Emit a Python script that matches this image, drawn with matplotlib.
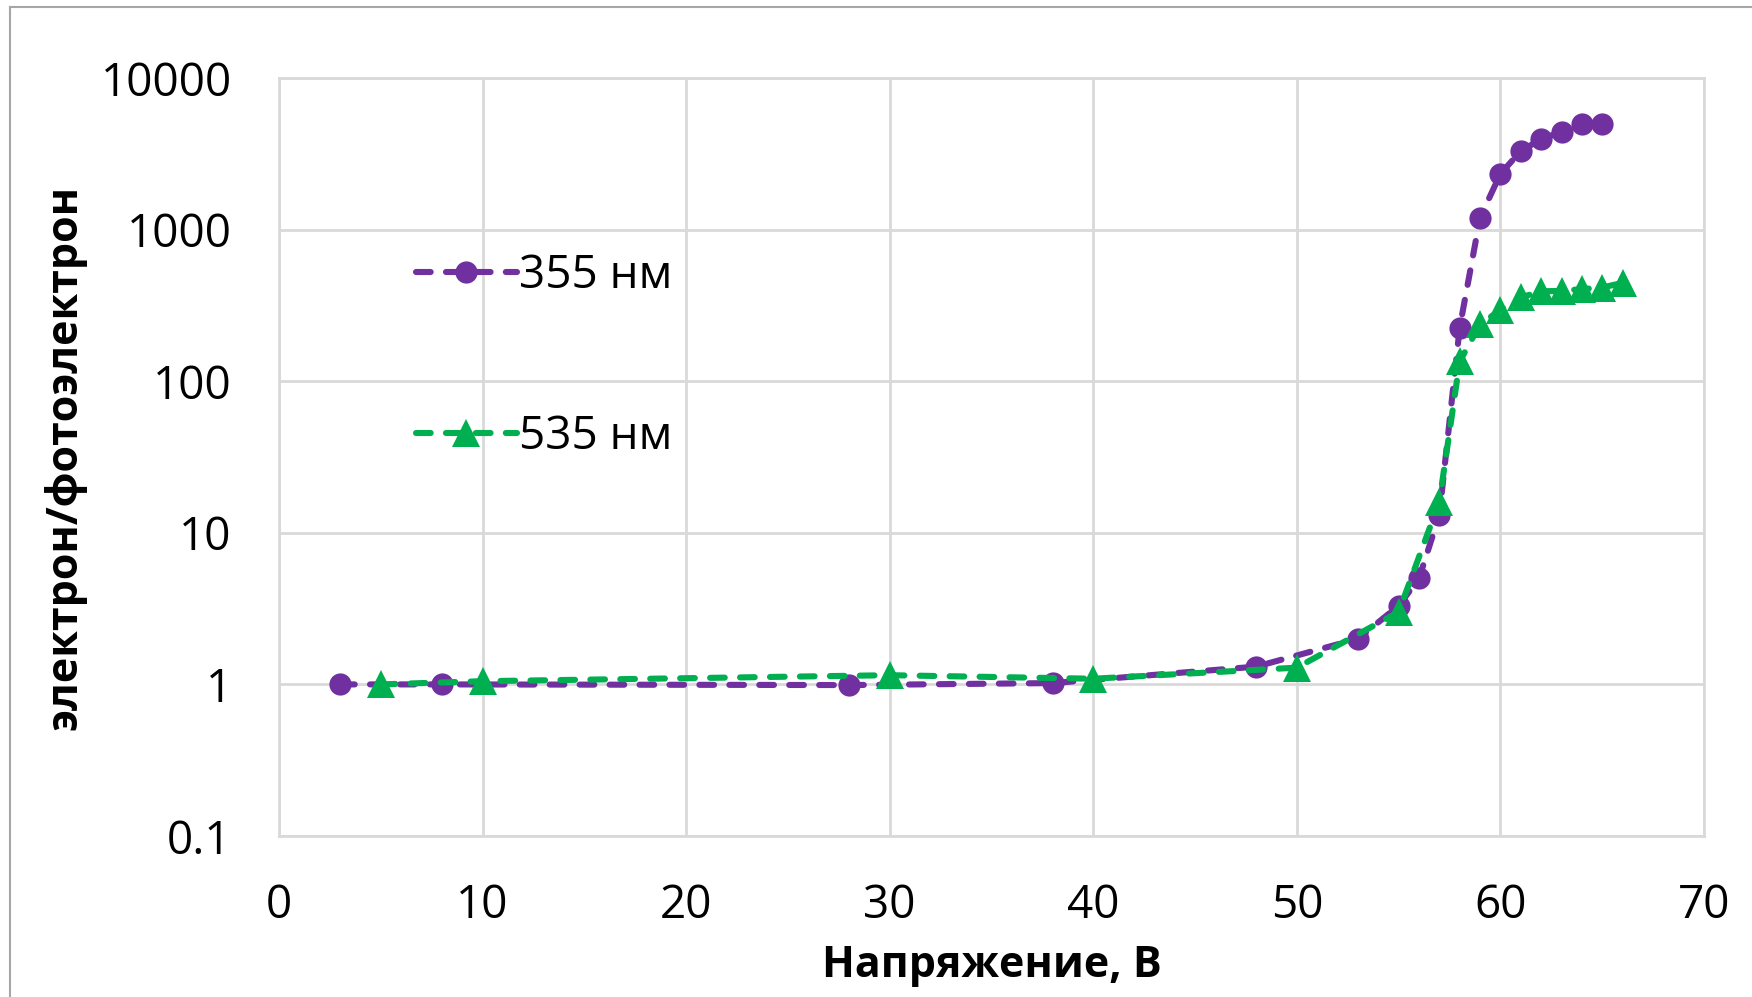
import numpy as np
import matplotlib.pyplot as plt
from matplotlib.lines import Line2D

# voltage (V) and gain readings for the two wavelengths
volts_355 = [3, 8, 28, 38, 48, 53, 55, 56, 57, 58, 59, 60, 61, 62, 63, 64, 65]
gain_355 = [1.0, 1.0, 0.99, 1.02, 1.31, 2.0, 3.3, 5.0, 13.1, 226, 1200, 2330,
            3300, 3950, 4420, 4950, 4950]

volts_535 = [5, 10, 30, 40, 50, 55, 57, 58, 59, 60, 61, 62, 63, 64, 65, 66]
gain_535 = [1.0, 1.05, 1.15, 1.09, 1.29, 3.0, 16, 135, 237, 295, 357, 392,
            394, 405, 415, 445]

series_labels = ["355 нм", "535 нм"]
y_ticks = [0.1, 1, 10, 100, 1000, 10000]
y_tick_labels = ["0.1", "1", "10", "100", "1000", "10000"]
x_ticks = list(range(0, 71, 10))

PURPLE = "#7030A0"
GREEN = "#00B050"
GRID = "#d9d9d9"

plt.rcParams['font.family'] = ['Open Sans', 'DejaVu Sans']

fig = plt.figure(figsize=(17.52, 9.97), dpi=100)
ax = fig.add_axes([279 / 1752, 1 - 836 / 997, 1425 / 1752, 758 / 997])

line_kw = dict(linewidth=4.4, dashes=(2.4, 2.5), dash_capstyle='round')
ax.plot(volts_355, gain_355, color=PURPLE, marker='o', markersize=16,
        markeredgewidth=0, label=series_labels[0], zorder=3, **line_kw)
ax.plot(volts_535, gain_535, color=GREEN, marker='^', markersize=20,
        markeredgewidth=0, label=series_labels[1], zorder=4, **line_kw)

ax.set_yscale('log')
ax.set_ylim(0.1, 10000)
ax.set_xlim(0, 70)
ax.set_yticks(y_ticks)
ax.set_yticklabels(y_tick_labels)
ax.yaxis.set_minor_locator(plt.NullLocator())
ax.set_xticks(x_ticks)

ax.grid(True, color=GRID, linewidth=2)
ax.set_axisbelow(True)
for side in ['top', 'right', 'bottom', 'left']:
    ax.spines[side].set_color(GRID)
    ax.spines[side].set_linewidth(2)

ax.tick_params(axis='both', length=0, labelsize=33, colors='black')
ax.tick_params(axis='y', pad=34)
ax.tick_params(axis='x', pad=34)

ax.set_xlabel("Напряжение, В", fontsize=31, fontweight='bold')
ax.xaxis.set_label_coords(0.5, -0.1715)
ax.xaxis.label.set_va('center')
ax.set_ylabel("электрон/фотоэлектрон", fontsize=31, fontweight='bold')
ax.yaxis.set_label_coords(-0.150, 0.5)
ax.yaxis.label.set_va('center')

leg = ax.legend(loc='upper left', bbox_to_anchor=(137 / 1425, 1 - 175 / 758),
                frameon=False, fontsize=33, handlelength=2.2,
                handletextpad=0.05, labelspacing=2.5, borderpad=0,
                borderaxespad=0)

# outer chart frame (only left and top edges visible)
fig.add_artist(Line2D([10 / 1752, 10 / 1752], [0, 1 - 7 / 997],
                      transform=fig.transFigure, color='#a6a6a6', linewidth=1.5))
fig.add_artist(Line2D([10 / 1752, 1], [1 - 7 / 997, 1 - 7 / 997],
                      transform=fig.transFigure, color='#a6a6a6', linewidth=1.5))

fig.savefig("out.png", dpi=100, facecolor='white')
